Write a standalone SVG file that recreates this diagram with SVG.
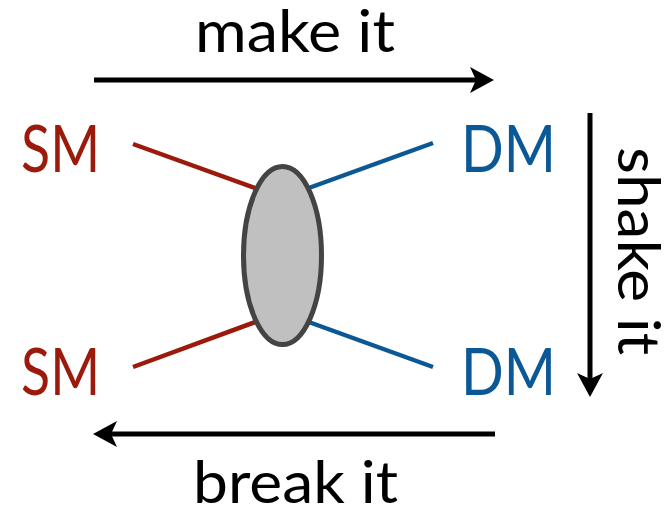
<svg xmlns="http://www.w3.org/2000/svg" width="667" height="511" viewBox="0 0 667 511">
<style>
.lbl{font-family:Lato,"Open Sans","Liberation Sans",sans-serif;}
.cap{font-size:65px;}
.act{font-size:59px;fill:#000;}
.sm{fill:#9b1a0b;}
.dm{fill:#0b5896;}
.arr{stroke:#000;stroke-width:5;fill:none;marker-end:url(#head);}
.red{stroke:#9b1a0b;stroke-width:4.5;}
.blue{stroke:#0b5896;stroke-width:4.5;}
</style>
<defs>
<marker id="head" markerUnits="userSpaceOnUse" viewBox="0 0 24 26" markerWidth="24" markerHeight="26" refX="6" refY="13" orient="auto">
<path d="M0,0 L24,13 L0,26 L6,13 Z" fill="#000"/>
</marker>
</defs>
<rect width="667" height="511" fill="#fff"/>
<g id="connectors">
<line class="red" x1="133" y1="144" x2="258" y2="189"/>
<line class="red" x1="133" y1="367" x2="258" y2="321"/>
<line class="blue" x1="306" y1="189" x2="433" y2="143"/>
<line class="blue" x1="306" y1="321" x2="433" y2="367"/>
<line class="arr" x1="94" y1="80" x2="476" y2="80"/>
<line class="arr" x1="590" y1="113" x2="590" y2="379"/>
<line class="arr" x1="495" y1="434" x2="111" y2="434"/>
</g>
<g id="blob">
<ellipse cx="282.5" cy="255.5" rx="39" ry="89" fill="#c0c0c0" stroke="#444" stroke-width="5"/>
</g>
<g id="sm-top"><text class="lbl cap sm" x="21" y="172" textLength="79" lengthAdjust="spacingAndGlyphs">SM</text></g>
<g id="sm-bottom"><text class="lbl cap sm" x="21" y="395" textLength="79" lengthAdjust="spacingAndGlyphs">SM</text></g>
<g id="dm-top"><text class="lbl cap dm" x="461" y="172" textLength="95" lengthAdjust="spacingAndGlyphs">DM</text></g>
<g id="dm-bottom"><text class="lbl cap dm" x="461" y="395" textLength="95" lengthAdjust="spacingAndGlyphs">DM</text></g>
<g id="make-it"><text class="lbl act" x="195" y="52" textLength="200" lengthAdjust="spacingAndGlyphs">make it</text></g>
<g id="shake-it"><text class="lbl act" x="618" y="147" transform="rotate(90 618 147)" textLength="208" lengthAdjust="spacingAndGlyphs">shake it</text></g>
<g id="break-it"><text class="lbl act" x="193" y="503" textLength="205" lengthAdjust="spacingAndGlyphs">break it</text></g>
</svg>
